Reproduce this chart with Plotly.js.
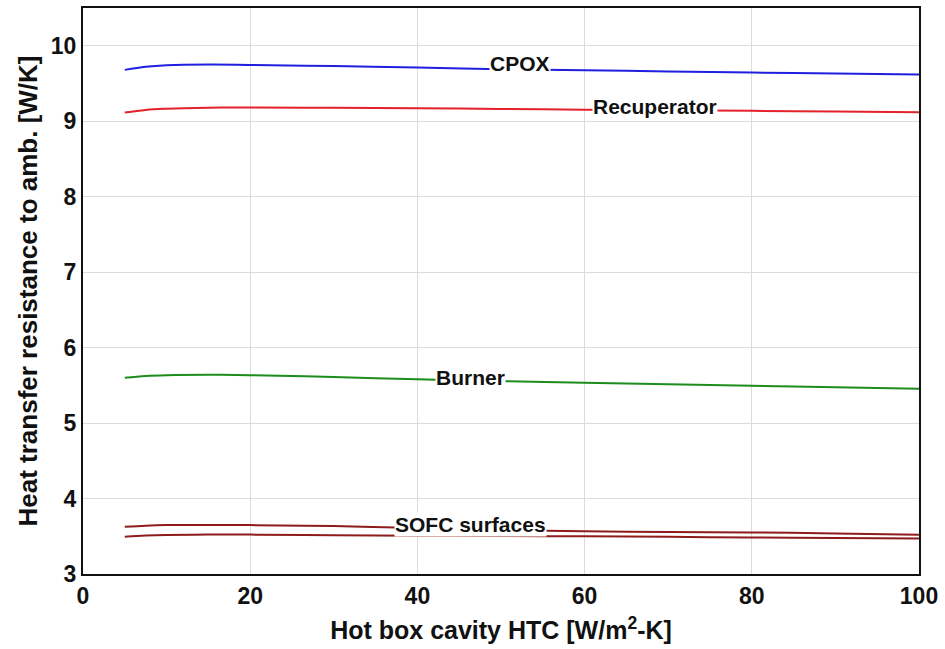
<!DOCTYPE html>
<html>
<head>
<meta charset="utf-8">
<script src="https://cdn.plot.ly/plotly-3.0.1.min.js"></script>
<style>html,body{margin:0;padding:0;background:#fff}#chart{width:945px;height:649px}</style>
</head>
<body>
<div id="chart"></div>
<script>
const htc = [5, 7.5, 10, 15, 20, 30, 40, 50, 60, 70, 80, 90, 100];
const cpox = [9.68, 9.72, 9.74, 9.75, 9.745, 9.73, 9.71, 9.69, 9.675, 9.66, 9.645, 9.633, 9.62];
const recuperator = [9.115, 9.15, 9.165, 9.178, 9.182, 9.178, 9.172, 9.163, 9.153, 9.145, 9.137, 9.128, 9.12];
const burner = [5.60, 5.625, 5.635, 5.64, 5.635, 5.61, 5.58, 5.555, 5.535, 5.515, 5.495, 5.475, 5.455];
const sofcUpper = [3.625, 3.64, 3.648, 3.65, 3.648, 3.635, 3.61, 3.58, 3.565, 3.557, 3.55, 3.538, 3.52];
const sofcLower = [3.495, 3.51, 3.518, 3.522, 3.522, 3.515, 3.508, 3.503, 3.499, 3.492, 3.484, 3.478, 3.472];

const labelNames = ["CPOX", "Recuperator", "Burner", "SOFC surfaces"];
const labelX = [52.3, 68.4, 46.3, 46.3];
const labelY = [9.76, 9.2, 5.61, 3.655];

const xTicks = [0, 20, 40, 60, 80, 100];
const yTicks = [3, 4, 5, 6, 7, 8, 9, 10];

const FONT = "Liberation Sans, Arial, Helvetica, sans-serif";

function line(y, color) {
  return {x: htc, y: y, type: "scatter", mode: "lines",
          line: {color: color, width: 2, shape: "spline", smoothing: 1},
          hoverinfo: "skip", showlegend: false};
}

const data = [
  line(cpox, "#1f1fe0"),
  line(recuperator, "#e3222b"),
  line(burner, "#1c8c1c"),
  line(sofcUpper, "#8e1c1c"),
  line(sofcLower, "#8e1c1c")
];

const annotations = labelNames.map((t, i) => ({
  x: labelX[i], y: labelY[i], xref: "x", yref: "y", text: t, showarrow: false,
  font: {family: FONT, size: 21, color: "#111", weight: "bold"},
  bgcolor: "#ffffff", borderpad: 0, xanchor: "center", yanchor: "middle"
}));

const axisCommon = {
  showline: true, linecolor: "#111", linewidth: 2, mirror: true,
  showgrid: true, gridcolor: "#dcdcdc", gridwidth: 1, zeroline: false,
  ticks: "", tickfont: {family: FONT, size: 23, color: "#111", weight: "bold"}
};

const layout = {
  width: 945, height: 649,
  margin: {l: 83, r: 26, t: 8, b: 75},
  paper_bgcolor: "#fff", plot_bgcolor: "#fff",
  showlegend: false,
  xaxis: Object.assign({}, axisCommon, {
    range: [0, 100], tickvals: xTicks, ticktext: xTicks.map(String),
    title: {text: "Hot box cavity HTC [W/m<sup>2</sup>-K]", standoff: 14,
            font: {family: FONT, size: 25, color: "#111", weight: "bold"}}
  }),
  yaxis: Object.assign({}, axisCommon, {
    range: [3, 10.5], tickvals: yTicks, ticktext: yTicks.map(String),
    title: {text: "Heat transfer resistance to amb. [W/K]", standoff: 6,
            font: {family: FONT, size: 26, color: "#111", weight: "bold"}}
  }),
  annotations: annotations
};

Plotly.newPlot("chart", data, layout, {staticPlot: true, displayModeBar: false});
</script>
</body>
</html>
